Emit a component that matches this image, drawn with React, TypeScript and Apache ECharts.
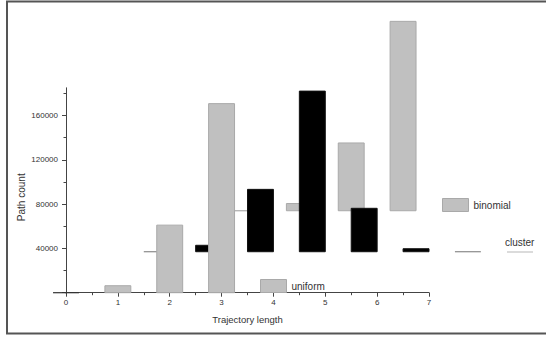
import React, { useEffect, useRef } from "react";
import * as echarts from "echarts";

// Tick labels
const xTicks = [0, 1, 2, 3, 4, 5, 6, 7];
const yTickLabels = [40000, 80000, 120000, 160000];

// uniform series (front row)
const uniformX = [0, 1, 2, 3];
const uniformValues = [0, 6300, 61000, 170700];

// cluster series (middle row, shifted in depth)
const clusterX = [1, 2, 3, 4, 5, 6, 7];
const clusterValues = [0, 5800, 56300, 145000, 39200, 2700, 0];

// binomial series (back row, shifted in depth)
const binomialX = [0, 1, 2, 3];
const binomialValues = [0, 6500, 61200, 171000];

// depth shifts of each row (x shift, base value)
const uniformShift = [0, 0];
const clusterShift = [0.75, 37000];
const binomialShift = [3.5, 74000];

const FONT = "Liberation Sans, Arial, sans-serif";

function rows(xs: number[], vals: number[], shift: number[]) {
  return xs.map((x, i) => [x + shift[0], shift[1], vals[i]]);
}

function makeRender(fill: string, stroke: string, zeroColor: string) {
  return (params: any, api: any) => {
    const x = api.value(0);
    const base = api.value(1);
    const v = api.value(2);
    const p0 = api.coord([x - 0.25, base]);
    const p1 = api.coord([x + 0.25, base + v]);
    if (v === 0) {
      return {
        type: "line",
        shape: { x1: p0[0], y1: p0[1], x2: p1[0], y2: p0[1] },
        style: { stroke: zeroColor, lineWidth: 1.2 },
      };
    }
    return {
      type: "rect",
      shape: {
        x: p0[0],
        y: p1[1],
        width: p1[0] - p0[0],
        height: p0[1] - p1[1],
      },
      style: { fill, stroke, lineWidth: 1 },
    };
  };
}

export default function App() {
  const ref = useRef<HTMLDivElement>(null);
  useEffect(() => {
    if (!ref.current) return;
    const chart = echarts.init(ref.current, null, { renderer: "svg" });
    const gray = "#c0c0c0";
    const grayBorder = "#a9a9a9";
    chart.setOption({
      animation: false,
      backgroundColor: "#ffffff",
      textStyle: { fontFamily: FONT },
      grid: { left: 66, right: 117, top: 87.8, bottom: 44.3, containLabel: false },
      xAxis: {
        type: "value",
        min: 0,
        max: 7,
        interval: 1,
        name: "Trajectory length",
        nameLocation: "middle",
        nameGap: 22,
        nameTextStyle: { fontSize: 9.5, color: "#333", fontFamily: FONT },
        axisLine: { show: true, lineStyle: { color: "#444", width: 1 } },
        axisTick: { show: true, length: 4, lineStyle: { color: "#444" }, customValues: xTicks },
        minorTick: { show: true, splitNumber: 2, length: 2.5, lineStyle: { color: "#444" } },
        axisLabel: {
          fontSize: 8,
          color: "#333",
          margin: 6,
          fontFamily: FONT,
          customValues: xTicks,
          formatter: (v: number) => String(v),
        },
        splitLine: { show: false },
        minorSplitLine: { show: false },
      },
      yAxis: {
        type: "value",
        min: 0,
        max: 185000,
        interval: 40000,
        name: "Path count",
        nameLocation: "middle",
        nameGap: 40,
        nameMoveOverlap: false,
        nameTextStyle: { fontSize: 10, color: "#333", fontFamily: FONT, padding: [0, 14, 0, 0] },
        axisLine: { show: true, lineStyle: { color: "#444", width: 1 } },
        axisTick: { show: true, length: 4, lineStyle: { color: "#444" }, customValues: [0, ...yTickLabels] },
        minorTick: { show: true, splitNumber: 2, length: 2.5, lineStyle: { color: "#444" } },
        axisLabel: {
          fontSize: 8,
          color: "#333",
          margin: 8,
          fontFamily: FONT,
          customValues: yTickLabels,
          formatter: (v: number) => String(v),
        },
        splitLine: { show: false },
        minorSplitLine: { show: false },
      },
      legend: [
        {
          data: ["uniform"],
          left: 260,
          top: 279,
          padding: 0,
          itemWidth: 26,
          itemHeight: 13,
          icon: "rect",
          selectedMode: false,
          itemStyle: { color: gray, borderColor: grayBorder, borderWidth: 1 },
          textStyle: { fontSize: 10, color: "#333", fontFamily: FONT },
        },
        {
          data: ["binomial"],
          left: 442,
          top: 198,
          padding: 0,
          itemWidth: 26,
          itemHeight: 13,
          icon: "rect",
          selectedMode: false,
          itemStyle: { color: gray, borderColor: grayBorder, borderWidth: 1 },
          textStyle: { fontSize: 10, color: "#333", fontFamily: FONT },
        },
      ],
      graphic: [
        {
          type: "rect",
          shape: { x: 7, y: 1.5, width: 600, height: 332 },
          style: { fill: "none", stroke: "#555", lineWidth: 2 },
          silent: true,
          z: 100,
        },
        {
          type: "text",
          x: 505,
          y: 242,
          style: {
            text: "cluster",
            fontSize: 10,
            fill: "#333",
            fontFamily: FONT,
            verticalAlign: "middle",
            align: "left",
          },
        },
        {
          type: "line",
          shape: { x1: 507, y1: 252, x2: 533, y2: 252 },
          style: { stroke: "#cfcfcf", lineWidth: 1.5 },
        },
      ],
      series: [
        {
          name: "axis-extension",
          type: "line",
          data: [[-0.25, 0], [0, 0]],
          symbol: "none",
          clip: false,
          silent: true,
          lineStyle: { color: "#444", width: 1 },
          z: 1,
        },
        {
          name: "binomial",
          type: "custom",
          clip: false,
          z: 2,
          itemStyle: { color: gray, borderColor: grayBorder },
          encode: { x: 0, y: 2 },
          data: rows(binomialX, binomialValues, binomialShift),
          renderItem: makeRender(gray, grayBorder, "#aaaaaa"),
        },
        {
          name: "cluster",
          type: "custom",
          clip: false,
          z: 3,
          itemStyle: { color: "#000" },
          encode: { x: 0, y: 2 },
          data: rows(clusterX, clusterValues, clusterShift),
          renderItem: makeRender("#000000", "#111111", "#8a8a8a"),
        },
        {
          name: "uniform",
          type: "custom",
          clip: false,
          z: 4,
          itemStyle: { color: gray, borderColor: grayBorder },
          encode: { x: 0, y: 2 },
          data: rows(uniformX, uniformValues, uniformShift),
          renderItem: makeRender(gray, grayBorder, "#333333"),
        },
      ],
    });
    return () => chart.dispose();
  }, []);
  return (
    <div
      ref={ref}
      style={{ position: "absolute", left: 0, top: 0, width: 546, height: 337 }}
    />
  );
}
